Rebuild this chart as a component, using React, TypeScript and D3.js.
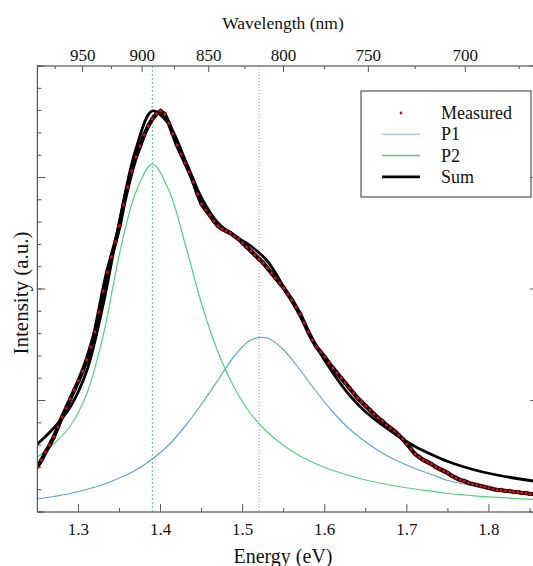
import React from "react";
import * as d3 from "d3";

// ---- data (intensity in arbitrary units) ----
const measuredStart = 1.25;
const measuredStep = 0.005;
const measured = [
  45, 52, 60, 67, 75, 85, 95, 104, 113, 122,
  131, 141, 152, 165, 180, 200, 221, 240, 255, 270,
  286, 307, 325, 341, 355, 366, 377, 386, 393, 398,
  401, 398, 389, 378, 367, 358, 349, 340, 330, 318,
  308, 302, 297, 291, 286, 283, 281, 279, 276, 273,
  269, 265, 261, 257, 253, 249, 244, 239, 234, 229,
  224, 218, 212, 205, 198, 189, 180, 172, 165, 160,
  155, 149, 144, 139, 134, 129, 124, 119, 114, 110,
  106, 102, 98, 94, 91, 87, 84, 81, 77, 73,
  68, 63, 58, 55, 52, 50, 48, 45, 43, 41,
  39, 36, 34, 32, 31, 29, 28, 27, 26, 25,
  24, 23, 22, 22, 21, 21, 20, 20, 19, 19,
  18, 18, 17,
];
const measuredEnergy = measured.map((_, i) => measuredStart + i * measuredStep);

const fitEnergy = [
  1.25, 1.27, 1.29, 1.31, 1.33, 1.35, 1.37, 1.39, 1.41, 1.43, 1.45, 1.47, 1.49, 1.51, 1.53, 1.55,
  1.57, 1.59, 1.61, 1.63, 1.65, 1.67, 1.69, 1.71, 1.73, 1.75, 1.77, 1.79, 1.81, 1.83, 1.85, 1.87,
];
const p1 = [
  13, 15.5, 18.5, 22.5, 27.5, 34, 42, 53, 67, 86, 108, 132, 156, 172, 174, 162,
  142, 120, 100, 83, 70, 59, 50.5, 43.5, 37.5, 31.5, 28, 25, 22.5, 20.5, 18.5, 17,
];
const p2 = [
  55, 68, 86, 118, 176, 258, 320, 348, 322, 268, 208, 160, 124, 98, 80, 66.5,
  56, 48, 41.5, 36.5, 32, 28.5, 25.5, 23, 20.8, 18.5, 17, 15.7, 14.6, 13.6, 12.7, 12,
];
const sumFit = [
  68, 84, 105, 141, 207, 291, 363, 401, 388, 352, 314, 289, 276, 266, 251, 225,
  196, 165, 139, 117, 100, 87, 75.5, 65.5, 57.5, 50.5, 45, 40.5, 37, 34, 31.5, 29.5,
];

const peakCenters = [1.39, 1.52];
const energyMajor = [1.3, 1.4, 1.5, 1.6, 1.7, 1.8];
const energyMinor = [1.35, 1.45, 1.55, 1.65, 1.75, 1.85];
const wavelengthMajor = [950, 900, 850, 800, 750, 700];
const wavelengthMinor = [975, 925, 875, 825, 775, 725, 675];
const intensityMajor = [0, 111.5, 223, 334.5, 446];
const intensityMinor = d3.range(0, 447, 22.3);

const legendItems = [
  { label: "Measured", type: "dot" },
  { label: "P1", type: "p1" },
  { label: "P2", type: "p2" },
  { label: "Sum", type: "sum" },
];

const W = 533;
const H = 566;
const left = 37.4;
const top = 66;
const bottom = 512;
const right = 538.2;

const C_P1 = "#5aa7da";
const C_P2 = "#55cf80";
const FRAME = "#555";
const FONT = '"Liberation Serif", Tinos, "Times New Roman", "DejaVu Serif", serif';
const T = { fontFamily: FONT, fill: "#111" };

export default function App() {
  const x = d3.scaleLinear().domain([1.25, 1.86]).range([left, right]);
  const y = d3.scaleLinear().domain([0, 446]).range([bottom, top]);
  const hc = 1239.84;

  const fitLine = (vals: number[]) =>
    d3
      .line<number>()
      .x((_, i) => x(fitEnergy[i]))
      .y((d) => y(d))
      .curve(d3.curveCatmullRom)(vals) || "";

  const measLine =
    d3
      .line<number>()
      .x((_, i) => x(measuredEnergy[i]))
      .y((d) => y(d))
      .curve(d3.curveLinear)(measured) || "";

  return (
    <div style={{ position: "fixed", left: 0, top: 0 }}>
      <svg width={W} height={H} style={{ display: "block", background: "#fff", fontFamily: FONT }}>
        <defs>
          <clipPath id="plot">
            <rect x={left} y={top} width={right - left} height={bottom - top} />
          </clipPath>
        </defs>

        {/* vertical reference lines */}
        <line x1={x(peakCenters[0])} x2={x(peakCenters[0])} y1={top} y2={bottom} stroke={C_P2} strokeWidth={1} strokeDasharray="2,2" />
        <line x1={x(peakCenters[1])} x2={x(peakCenters[1])} y1={top} y2={bottom} stroke="#8a8aff" strokeWidth={1} strokeDasharray="1,2" />

        <g clipPath="url(#plot)">
          <path d={fitLine(p1)} fill="none" stroke={C_P1} strokeWidth={1.2} />
          <path d={fitLine(p2)} fill="none" stroke={C_P2} strokeWidth={1.2} />
          <path d={fitLine(sumFit)} fill="none" stroke="#000" strokeWidth={2.8} />
          <path d={measLine} fill="none" stroke="#000" strokeWidth={4.2} />
          {measured.map((v, i) => (
            <circle key={i} cx={x(measuredEnergy[i])} cy={y(v)} r={1.9} fill="#d0101a" stroke="#000" strokeWidth={0.5} />
          ))}
        </g>

        {/* frame */}
        <rect x={left} y={top} width={right - left} height={bottom - top} fill="none" stroke={FRAME} strokeWidth={1.2} />

        {/* bottom axis */}
        {energyMajor.map((e) => (
          <g key={"bm" + e}>
            <line x1={x(e)} x2={x(e)} y1={bottom} y2={bottom - 8} stroke={FRAME} />
            <text x={x(e)} y={535} textAnchor="middle" fontSize={17} style={T}>
              {e.toFixed(1)}
            </text>
          </g>
        ))}
        {energyMinor.map((e) => (
          <line key={"bn" + e} x1={x(e)} x2={x(e)} y1={bottom} y2={bottom - 4} stroke={FRAME} />
        ))}
        <text x={283} y={563} textAnchor="middle" fontSize={20} style={T}>
          Energy (eV)
        </text>

        {/* top axis */}
        {wavelengthMajor.map((w) => (
          <g key={"tm" + w}>
            <line x1={x(hc / w)} x2={x(hc / w)} y1={top} y2={top + 6} stroke={FRAME} />
            <text x={x(hc / w)} y={61} textAnchor="middle" fontSize={17} style={T}>
              {w}
            </text>
          </g>
        ))}
        {wavelengthMinor.map((w) => (
          <line key={"tn" + w} x1={x(hc / w)} x2={x(hc / w)} y1={top} y2={top + 3} stroke={FRAME} />
        ))}
        <text x={283} y={29} textAnchor="middle" fontSize={17.5} style={T}>
          Wavelength (nm)
        </text>

        {/* left & right axes */}
        {intensityMajor.map((v) => (
          <g key={"lm" + v}>
            <line x1={left} x2={left + 8} y1={y(v)} y2={y(v)} stroke={FRAME} />
            <line x1={right} x2={right - 8} y1={y(v)} y2={y(v)} stroke={FRAME} />
          </g>
        ))}
        {intensityMinor.map((v) => (
          <g key={"ln" + v}>
            <line x1={left} x2={left + 4} y1={y(v)} y2={y(v)} stroke={FRAME} />
            <line x1={right} x2={right - 4} y1={y(v)} y2={y(v)} stroke={FRAME} />
          </g>
        ))}
        <text transform={`translate(28,293) rotate(-90)`} textAnchor="middle" fontSize={21} style={T}>
          Intensity (a.u.)
        </text>

        {/* legend */}
        <rect x={361} y={91} width={170} height={106} fill="#fff" stroke={FRAME} strokeWidth={1.2} />
        {legendItems.map((it, i) => {
          const cy = 113 + i * 21.3;
          return (
            <g key={it.label}>
              {it.type === "dot" && <circle cx={401} cy={cy} r={1.4} fill="#c8102e" />}
              {it.type === "p1" && <line x1={382} x2={420} y1={cy} y2={cy} stroke="#a4cfea" strokeWidth={1.5} />}
              {it.type === "p2" && <line x1={382} x2={420} y1={cy} y2={cy} stroke={C_P2} strokeWidth={1.5} />}
              {it.type === "sum" && <line x1={382} x2={420} y1={cy} y2={cy} stroke="#000" strokeWidth={2.8} />}
              <text x={441} y={cy + 6} fontSize={18} style={T}>
                {it.label}
              </text>
            </g>
          );
        })}
      </svg>
    </div>
  );
}
